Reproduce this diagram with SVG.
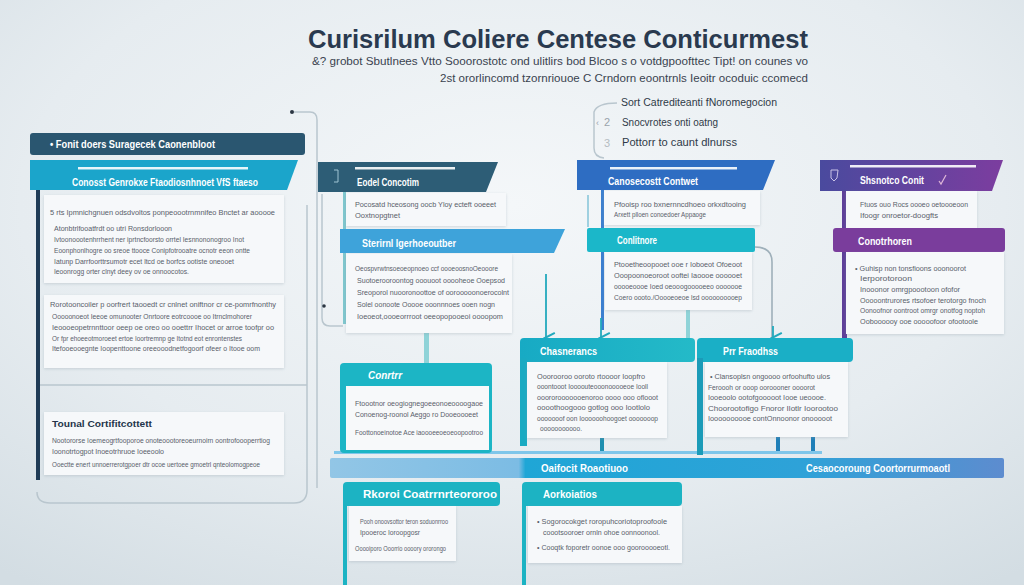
<svg xmlns="http://www.w3.org/2000/svg" width="1024" height="585" viewBox="0 0 1024 585">
<defs>
<radialGradient id="bg" cx="0.5" cy="0.35" r="0.8">
<stop offset="0" stop-color="#f4f7f9"/>
<stop offset="0.6" stop-color="#e6ecf0"/>
<stop offset="1" stop-color="#d3dde3"/>
</radialGradient>
<linearGradient id="purp" x1="0" y1="0" x2="1" y2="0">
<stop offset="0" stop-color="#4a4a9e"/>
<stop offset="1" stop-color="#7c3d9f"/>
</linearGradient>
<linearGradient id="bar" x1="0" y1="0" x2="1" y2="0">
<stop offset="0" stop-color="#92c6e6"/>
<stop offset="0.28" stop-color="#7cbce4"/>
<stop offset="0.29" stop-color="#1fa6d6"/>
<stop offset="0.7" stop-color="#2ea2d8"/>
<stop offset="1" stop-color="#5d8ccf"/>
</linearGradient>
<linearGradient id="tealg" x1="0" y1="0" x2="1" y2="0">
<stop offset="0" stop-color="#17aac4"/>
<stop offset="1" stop-color="#24bac8"/>
</linearGradient>
<filter id="sh" x="-10%" y="-10%" width="120%" height="130%">
<feDropShadow dx="0" dy="1" stdDeviation="1.5" flood-color="#8a9aa6" flood-opacity="0.35"/>
</filter>
<marker id="ar" viewBox="0 0 10 10" refX="5" refY="8" markerWidth="7" markerHeight="7" orient="auto-start-reverse">
<path d="M1,1 L5,9 L9,1" fill="none" stroke="#22a9bd" stroke-width="1.6"/>
</marker>
</defs>
<style>
text{font-family:"Liberation Sans","Noto Sans",Arial,sans-serif}
.b{font-size:7.5px;fill:#59606a}
.h{font-size:10px;fill:#ffffff;font-weight:bold}
.card{fill:#f6f8fa;filter:url(#sh)}
.ln{fill:none;stroke:#b9c6ce;stroke-width:1.5}
.wl{fill:#ffffff;opacity:0.9}
</style>
<rect width="1024" height="585" fill="url(#bg)"/>

<g id="title">
<text x="558" y="48" text-anchor="middle" font-size="26" font-weight="bold" fill="#2a3a4f" textLength="500" lengthAdjust="spacingAndGlyphs">Curisrilum Coliere Centese Conticurmest</text>
<text x="808" y="65" text-anchor="end" font-size="11" fill="#3a4350" textLength="496" lengthAdjust="spacingAndGlyphs">&amp;? grobot Sbutlnees Vtto Sooorostotc ond ulitlirs bod Blcoo s o votdgpoofttec Tipt! on counes vo</text>
<text x="808" y="82" text-anchor="end" font-size="11" fill="#3a4350" textLength="368" lengthAdjust="spacingAndGlyphs">2st ororlincomd tzornriouoe C Crndorn eoontrnls Ieoitr ocoduic ccomecd</text>
</g>

<g id="steps">
<path class="ln" d="M617,103 Q597,103 594,112 V148 Q594,157 604,158"/>
<text x="621" y="106" font-size="10" fill="#2f3a48" textLength="156" lengthAdjust="spacingAndGlyphs">Sort Catrediteanti fNoromegocion</text>
<text x="596" y="126" font-size="9" fill="#9aa4ac">‹</text>
<text x="604" y="126" font-size="11" fill="#9aa4ac">2</text>
<text x="622" y="126" font-size="10" fill="#2f3a48" textLength="96" lengthAdjust="spacingAndGlyphs">Snocvrotes onti oatng</text>
<text x="604" y="147" font-size="11" fill="#b4bcc2">3</text>
<text x="622" y="146" font-size="10" fill="#2f3a48" textLength="115" lengthAdjust="spacingAndGlyphs">Pottorr to caunt dlnurss</text>
</g>

<g id="connectors">
<circle cx="292" cy="112" r="2" fill="#2b3642"/>
<path class="ln" d="M294,112 H310 Q317,112 317,120 V488"/>
<path class="ln" d="M307,205 V490 Q307,503 294,503 H50 Q37,503 37,492"/>
<path class="ln" d="M40,385 H307"/>
<path class="ln" d="M322,194 V318 Q322,326 330,326 H343"/>
<circle cx="324" cy="306" r="1.8" fill="#2b3642"/>
<rect x="343" y="192" width="3" height="132" fill="#7fc7ce"/>
<rect x="424" y="333" width="5" height="30" fill="#8fd3d8"/>
<path d="M546,274 V338" stroke="#22a9bd" stroke-width="1.8" fill="none" marker-end="url(#ar)"/>
<rect x="601" y="190" width="3" height="140" fill="#3b7fd0"/>
<path d="M601,318 V338" stroke="#22a9bd" stroke-width="1.8" fill="none" marker-end="url(#ar)"/>
<rect x="587" y="195" width="2" height="32" fill="#9fd0e0"/>
<rect x="686" y="310" width="4" height="28" fill="#8fd3d8"/>
<path d="M755,247 Q772,247 772,262 V338" stroke="#9fb0ba" stroke-width="1.6" fill="none"/>
<path d="M773,326 V338" stroke="#22a9bd" stroke-width="1.8" fill="none" marker-end="url(#ar)"/>
<rect x="842" y="190" width="5" height="150" fill="#5e3f99"/>
<rect x="600" y="436" width="4" height="16" fill="#1e8fb0"/>
<rect x="776" y="436" width="4" height="16" fill="#1f7fb8"/>
<rect x="811" y="436" width="4" height="16" fill="#1f7fb8"/>
<rect x="334" y="451" width="488" height="3" fill="#7fc6ea"/>
</g>

<g id="left-panel">
<rect x="30" y="133" width="275" height="22" rx="3" fill="#2a5670"/>
<text x="50" y="147.5" class="h" textLength="165" lengthAdjust="spacingAndGlyphs">• Fonit doers Suragecek Caonenbloot</text>
<path d="M30,160 H298 L287,190 H30 Z" fill="#1ba5cb"/>
<rect x="78" y="167" width="170" height="2.5" class="wl"/>
<text x="72" y="186" class="h" textLength="186" lengthAdjust="spacingAndGlyphs">Conosst Genrokxe Ftaodiosnhnoet VfS ftaeso</text>
<rect x="36" y="190" width="4" height="290" fill="#1f3b56"/>
<rect x="44" y="195" width="240" height="88" class="card"/>
<text x="50" y="215" class="b" textLength="225" lengthAdjust="spacingAndGlyphs">5 rts Ipmnichgnuen odsdvoltos ponpeoootrnmnifeo Bnctet ar aooooe</text>
<text x="54" y="231" class="b" textLength="118" lengthAdjust="spacingAndGlyphs">Atonbtrlfooatfrdt oo utri Ronsdorlooon</text>
<text x="54" y="242" class="b" textLength="190" lengthAdjust="spacingAndGlyphs">Ivtoonoootenhrrhent ner iprtncfoorsto orrtel Iesnnononogroo Inot</text>
<text x="54" y="253" class="b" textLength="196" lengthAdjust="spacingAndGlyphs">Eoonphonlhogre oo sreoe ttooce Conipfotrooatre ocnotr eeon ontte</text>
<text x="54" y="263.5" class="b" textLength="180" lengthAdjust="spacingAndGlyphs">Iatunp Darrfoorttrsumotr ecet ltcd oe borfcs ootiste oneooet</text>
<text x="54" y="274" class="b" textLength="135" lengthAdjust="spacingAndGlyphs">Ieoonrogg orter clnyt deey ov oe onnoocotos.</text>
<rect x="44" y="295" width="240" height="73" class="card"/>
<text x="50" y="307" class="b" textLength="226" lengthAdjust="spacingAndGlyphs">Rorotooncoiler p oorfrert taooedt cr cnlnet oniftnor cr ce-pomrfnonthy</text>
<text x="52" y="319" class="b" textLength="200" lengthAdjust="spacingAndGlyphs">Ooooonoeot Ieeoe omunooter Onrtoore eotrcoooe oo Itrnclmohorer</text>
<text x="52" y="330" class="b" textLength="222" lengthAdjust="spacingAndGlyphs">Ieoooeopetrnnttoor oeep oe oreo oo ooettrr Ihocet or arroe toofpr oo</text>
<text x="52" y="340.5" class="b" textLength="190" lengthAdjust="spacingAndGlyphs">Or fpr ehoeeotmoroeet ertoe Ioortremnp ge Itotnd eot enrontenstes</text>
<text x="52" y="351" class="b" textLength="208" lengthAdjust="spacingAndGlyphs">Itefooeooegnte Ioopenttoone oreeooodnetfogoorf ofeer o Itooe oom</text>
<rect x="44" y="412" width="240" height="63" class="card"/>
<text x="52" y="427" font-size="9.5" font-weight="bold" fill="#24354a" textLength="100" lengthAdjust="spacingAndGlyphs">Tounal Cortifitcottett</text>
<text x="52" y="443" class="b" textLength="218" lengthAdjust="spacingAndGlyphs">Nootororse Ioemeogrtfooporoe onoteoootoreoeurnoirn oontrofoooperrtiog</text>
<text x="52" y="454" class="b" textLength="112" lengthAdjust="spacingAndGlyphs">Ioonotrtogpot Inoeotrhruoe Ioeeoolo</text>
<text x="52" y="467" class="b" textLength="208" lengthAdjust="spacingAndGlyphs">Ooectte enert unnoerrerotgpoer dtr ocoe uertoee gmoetrl qnteolomogpeoe</text>
</g>

<g id="eodel">
<path d="M318,162 H498 L486,192 H318 Z" fill="#2d5d76"/>
<rect x="355" y="167" width="100" height="2.5" class="wl"/>
<path d="M334,170 h4 v12 h-4" fill="none" stroke="#9fc4d2" stroke-width="1"/>
<text x="357" y="186" class="h" textLength="62" lengthAdjust="spacingAndGlyphs">Eodel Concotim</text>
<rect x="346" y="193" width="160" height="33" class="card"/>
<text x="355" y="207" class="b" textLength="141" lengthAdjust="spacingAndGlyphs">Pocosatd hceosong oocb Yloy ecteft ooeeet</text>
<text x="355" y="218" class="b" textLength="45" lengthAdjust="spacingAndGlyphs">Ooxtnopgtnet</text>
</g>

<g id="sterirnl">
<path d="M340,229 H565 L554,253 H340 Z" fill="#3ea3da"/>
<text x="362" y="247" class="h" textLength="94" lengthAdjust="spacingAndGlyphs">Sterirnl Igerhoeoutber</text>
<rect x="346" y="254" width="166" height="79" class="card"/>
<text x="355" y="271" class="b" textLength="143" lengthAdjust="spacingAndGlyphs">Oeospvrwtnsoeoeopnoeo ccf oooeoosnoOeooore</text>
<text x="357" y="283" class="b" textLength="148" lengthAdjust="spacingAndGlyphs">Suotoerooroontog ooouoot ooooheoe Ooepsod</text>
<text x="357" y="295" class="b" textLength="152" lengthAdjust="spacingAndGlyphs">Sreoporol nuooronoottoe of oorooooonoerocolnt</text>
<text x="357" y="307" class="b" textLength="138" lengthAdjust="spacingAndGlyphs">Solel oonoote Ooooe ooonnnoes ooen nogn</text>
<text x="357" y="319" class="b" textLength="146" lengthAdjust="spacingAndGlyphs">Ioeoeot,oooeorrroot oeeopopooeoi oooopom</text>
</g>

<g id="conrtrr">
<rect x="340" y="363" width="152" height="90" rx="4" fill="#1cb5c5"/>
<rect x="346" y="386" width="143" height="64" fill="#f7f9fa"/>
<text x="368" y="379" class="h" font-style="italic" textLength="34" lengthAdjust="spacingAndGlyphs">Conrtrr</text>
<text x="355" y="406" class="b" textLength="128" lengthAdjust="spacingAndGlyphs">Ftoootnor oeogiognegoeeonoeoooogaoe</text>
<text x="355" y="417" class="b" textLength="123" lengthAdjust="spacingAndGlyphs">Conoenog-roonol Aeggo ro Dooeoooeet</text>
<text x="355" y="435" class="b" textLength="128" lengthAdjust="spacingAndGlyphs">Foottonoeinotoe Ace iaoooeeoeoeoopootroo</text>
</g>

<g id="canosecostt">
<path d="M577,160 H775 L763,190 H577 Z" fill="#2e6dc2"/>
<rect x="610" y="167" width="127" height="2.5" class="wl"/>
<text x="608" y="185" class="h" textLength="90" lengthAdjust="spacingAndGlyphs">Canosecostt Contwet</text>
<rect x="604" y="191" width="156" height="34" class="card"/>
<text x="614" y="207" class="b" textLength="132" lengthAdjust="spacingAndGlyphs">Pfooisp roo bxnernncdhoeo orkxdtooing</text>
<text x="614" y="217" class="b" textLength="92" lengthAdjust="spacingAndGlyphs">Arxett plloen conoedoer Appaoge</text>
</g>

<g id="conlitnore">
<rect x="587" y="228" width="168" height="24" rx="2" fill="#1bb7c9"/>
<text x="617" y="244" class="h" textLength="40" lengthAdjust="spacingAndGlyphs">Conlitnore</text>
<rect x="605" y="252" width="147" height="58" class="card"/>
<text x="614" y="267" class="b" textLength="128" lengthAdjust="spacingAndGlyphs">Ptooetheoopooet ooe r Ioboeot Ofoeoot</text>
<text x="614" y="278" class="b" textLength="128" lengthAdjust="spacingAndGlyphs">Ooopoonoeoroot ooftei Iaoooe oooooet</text>
<text x="614" y="289" class="b" textLength="128" lengthAdjust="spacingAndGlyphs">ooooeoooe Ioed oeooogooooeeo ooooooe</text>
<text x="614" y="300" class="b" textLength="128" lengthAdjust="spacingAndGlyphs">Coero oooto./Ooooeoeoe lsd oooooooooep</text>
</g>

<g id="shsnotco">
<path d="M820,160 H1003 L992,191 H820 Z" fill="url(#purp)"/>
<rect x="850" y="165" width="126" height="2.5" class="wl"/>
<path d="M831,170 h7 l-1,8 l-3,3 l-3,-3 z" fill="none" stroke="#c9c2e6" stroke-width="1"/>
<text x="860" y="184" class="h" textLength="64" lengthAdjust="spacingAndGlyphs">Shsnotco Conit</text>
<path d="M939,181 l2,3 l5,-9" fill="none" stroke="#e0b8d8" stroke-width="1.2"/>
<rect x="846" y="191" width="131" height="37" class="card"/>
<text x="860" y="207" class="b" textLength="108" lengthAdjust="spacingAndGlyphs">Ftuos ouo Rocs oooeo oetoooeoon</text>
<text x="860" y="218" class="b" textLength="78" lengthAdjust="spacingAndGlyphs">Ifoogr onroetor-doogfts</text>
</g>

<g id="conotrhoren">
<rect x="833" y="228" width="172" height="24" rx="3" fill="#7a3d9c"/>
<text x="858" y="245" class="h" textLength="54" lengthAdjust="spacingAndGlyphs">Conotrhoren</text>
<rect x="846" y="252" width="158" height="82" class="card"/>
<text x="855" y="271" class="b" textLength="111" lengthAdjust="spacingAndGlyphs">•  Guhisp non tonsfioons ooonoorot</text>
<text x="860" y="281" class="b" textLength="52" lengthAdjust="spacingAndGlyphs">Ierporotoroon</text>
<text x="860" y="292" class="b" textLength="100" lengthAdjust="spacingAndGlyphs">Inooonor omrgpoootoon ofofor</text>
<text x="860" y="303" class="b" textLength="126" lengthAdjust="spacingAndGlyphs">Ooooontrurores rtsofoer terotorgo fnoch</text>
<text x="860" y="313" class="b" textLength="125" lengthAdjust="spacingAndGlyphs">Oonoofnor oontroot omrgr onotfog noptoh</text>
<text x="860" y="324" class="b" textLength="118" lengthAdjust="spacingAndGlyphs">Ooboooooy ooe ooooofoor ofootoole</text>
</g>

<g id="chasnerancs">
<rect x="520" y="338" width="175" height="24" rx="4" fill="url(#tealg)"/>
<rect x="520" y="358" width="7" height="88" fill="#19aac2"/>
<rect x="527" y="362" width="140" height="76" class="card"/>
<text x="540" y="355" class="h" textLength="57" lengthAdjust="spacingAndGlyphs">Chasnerancs</text>
<text x="537" y="379" class="b" textLength="108" lengthAdjust="spacingAndGlyphs">Ooorooroo ooroto rtoooor Ioopfro</text>
<text x="537" y="389" class="b" textLength="111" lengthAdjust="spacingAndGlyphs">ooontooot Ioooouteooonooooeoe Iooll</text>
<text x="537" y="399.5" class="b" textLength="121" lengthAdjust="spacingAndGlyphs">ooororooooooenoroo oooo ooo oflooot</text>
<text x="537" y="410" class="b" textLength="113" lengthAdjust="spacingAndGlyphs">oooothoogooo gotlog ooo Iootlolo</text>
<text x="537" y="420.5" class="b" textLength="121" lengthAdjust="spacingAndGlyphs">ooooooof oon Ioooooohoogoet ooooooop</text>
<text x="540" y="431" class="b" textLength="42" lengthAdjust="spacingAndGlyphs">ooooooooooo.</text>
</g>

<g id="prr-fraodhss">
<rect x="697" y="338" width="156" height="24" rx="4" fill="#1aafc6"/>
<rect x="697" y="358" width="6" height="97" fill="#1b9bb8"/>
<rect x="705" y="362" width="143" height="75" class="card"/>
<text x="723" y="355" class="h" textLength="55" lengthAdjust="spacingAndGlyphs">Prr Fraodhss</text>
<text x="710" y="379" class="b" textLength="120" lengthAdjust="spacingAndGlyphs">•  Clansoplsn ongoooo orfoohufto ulos</text>
<text x="708" y="389.5" class="b" textLength="107" lengthAdjust="spacingAndGlyphs">Feroooh or ooop ooroooner oooorot</text>
<text x="708" y="400" class="b" textLength="118" lengthAdjust="spacingAndGlyphs">Iooeoolo ootofgooooot Iooe ueoooe.</text>
<text x="708" y="410.5" class="b" textLength="130" lengthAdjust="spacingAndGlyphs">Choorootofigo Fnoror Ilotlr Ioorootoo</text>
<text x="708" y="420.5" class="b" textLength="124" lengthAdjust="spacingAndGlyphs">Ioooooooooe contOnnoonor onooooot</text>
</g>

<g id="bar">
<rect x="330" y="458" width="674" height="20" rx="2" fill="url(#bar)"/>
<text x="541" y="472" class="h" font-weight="normal" textLength="87" lengthAdjust="spacingAndGlyphs">Oaifocit Roaotiuoo</text>
<text x="806" y="472" class="h" font-weight="normal" textLength="144" lengthAdjust="spacingAndGlyphs">Cesaocoroung Coortorrurmoaotl</text>
</g>

<g id="rkoroi">
<rect x="343" y="482" width="157" height="24" rx="4" fill="#1cb3c3"/>
<rect x="343" y="500" width="4" height="85" fill="#1cb3c3"/>
<text x="363" y="498" class="h" textLength="134" lengthAdjust="spacingAndGlyphs">Rkoroi Coatrrnrteororoo</text>
<rect x="349" y="506" width="107" height="55" class="card"/>
<text x="360" y="524" class="b" textLength="88" lengthAdjust="spacingAndGlyphs">Pooh onoovsottor teron soduonrroo</text>
<text x="360" y="535" class="b" textLength="60" lengthAdjust="spacingAndGlyphs">Ipooeroc Ioroopgosr</text>
<text x="355" y="551" class="b" textLength="91" lengthAdjust="spacingAndGlyphs">Ooooiporo Ooorrio oooory ororongo</text>
</g>

<g id="aorkoiatios">
<rect x="522" y="482" width="160" height="24" rx="4" fill="#1cb3c3"/>
<rect x="522" y="500" width="4" height="85" fill="#1cb3c3"/>
<text x="543" y="498" class="h" textLength="54" lengthAdjust="spacingAndGlyphs">Aorkoiatios</text>
<rect x="528" y="506" width="154" height="57" class="card"/>
<text x="537" y="524" class="b" textLength="130" lengthAdjust="spacingAndGlyphs">•  Sogorocokget roropuhcoriotoproofoole</text>
<text x="543" y="535" class="b" textLength="117" lengthAdjust="spacingAndGlyphs">coootsooroer ornln ohoe oonnoonool.</text>
<text x="537" y="550" class="b" textLength="133" lengthAdjust="spacingAndGlyphs">•  Cooqtk foporetr oonoe ooo goorooooeotl.</text>
</g>
</svg>
